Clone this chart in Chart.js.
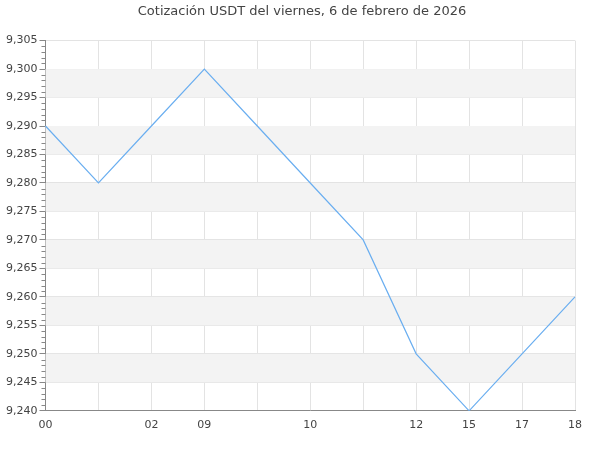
<!DOCTYPE html>
<html><head><meta charset="utf-8">
<script src="https://cdn.jsdelivr.net/npm/chart.js@4"></script>
<style>html,body{margin:0;padding:0;background:#fff}#w{width:600px;height:450px}</style>
</head><body><div id="w"><canvas id="c" width="600" height="450"></canvas></div>
<script>
const titleText = 'Cotización USDT del viernes, 6 de febrero de 2026';
const categories = ['00','','02','09','','10','','12','15','17','18'];
const prices = [9.290, 9.280, 9.290, 9.300, 9.290, 9.280, 9.270, 9.250, 9.240, 9.250, 9.260];
const yMin = 9.240, yMax = 9.305, yMajor = 0.005, yMinor = 0.001;

const bandsPlugin = {
  id: 'bands',
  beforeDatasetsDraw(chart) {
    const {ctx, chartArea, scales: {y}} = chart;
    ctx.save();
    ctx.fillStyle = '#f3f3f3';
    for (let k = 0; ; k++) {
      const hi = yMax - yMajor - 2 * k * yMajor;
      const lo = hi - yMajor;
      if (lo < yMin - 1e-9) break;
      const top = y.getPixelForValue(hi), bot = y.getPixelForValue(lo);
      ctx.fillRect(chartArea.left, top, chartArea.right - chartArea.left, bot - top);
    }
    ctx.restore();
  }
};
const minorPlugin = {
  id: 'minor',
  afterDraw(chart) {
    const {ctx, chartArea, scales: {y}} = chart;
    ctx.save();
    ctx.strokeStyle = '#888';
    ctx.lineWidth = 1;
    const n = Math.round((yMax - yMin) / yMinor);
    for (let i = 0; i <= n; i++) {
      if (i % 5 === 0) continue;
      const py = Math.round(y.getPixelForValue(yMin + i * yMinor)) + 0.5;
      ctx.beginPath();
      ctx.moveTo(chartArea.left - 4, py);
      ctx.lineTo(chartArea.left, py);
      ctx.stroke();
    }
    ctx.restore();
  }
};

new Chart(document.getElementById('c'), {
  type: 'line',
  data: { labels: categories, datasets: [{ data: prices, borderColor: '#6aaef0', borderWidth: 1.2, pointRadius: 0, tension: 0, fill: false }] },
  options: {
    responsive: false, animation: false, devicePixelRatio: 1,
    layout: { padding: { left: 4, right: 0, top: 0, bottom: 10 } },
    plugins: {
      legend: { display: false }, tooltip: { enabled: false },
      title: { display: true, text: titleText, color: '#444', font: { family: 'DejaVu Sans', size: 13, weight: 'normal' }, padding: { top: 4, bottom: 21 } }
    },
    scales: {
      x: {
        type: 'category', offset: false,
        grid: { color: '#e3e3e3', drawTicks: false },
        border: { color: '#888' },
        ticks: { autoSkip: false, maxRotation: 0, color: '#444', padding: 8, font: { family: 'DejaVu Sans', size: 11 } }
      },
      y: {
        min: yMin, max: yMax,
        grid: { color: '#e3e3e3', tickLength: 6, tickColor: '#888' },
        border: { color: '#888' },
        ticks: { stepSize: yMajor, color: '#444', padding: 2, font: { family: 'DejaVu Sans', size: 11 },
          callback: v => v.toFixed(3).replace('.', ',') }
      },
      yr: {
        position: 'right', display: true,
        grid: { display: false, drawTicks: false },
        border: { display: false },
        ticks: { display: false },
        afterFit: s => { s.width = 25; }
      }
    }
  },
  plugins: [bandsPlugin, minorPlugin]
});
</script></body></html>
